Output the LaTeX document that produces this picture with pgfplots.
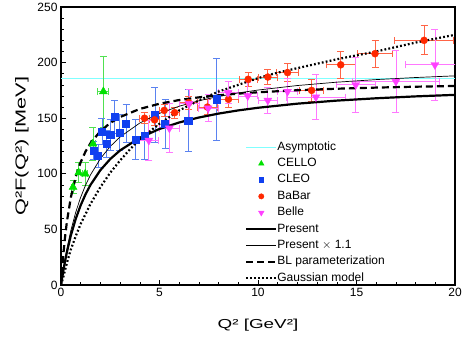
\documentclass[border=0pt]{standalone}
\usepackage{fontspec}
\setmainfont{Liberation Sans}
\usepackage{graphicx}
\usepackage{pgfplots}
\pgfplotsset{compat=1.18}

\definecolor{asym}{RGB}{128,255,255}
\definecolor{cellog}{RGB}{0,225,0}
\definecolor{cellol}{RGB}{80,225,80}
\definecolor{cleob}{RGB}{16,64,240}
\definecolor{cleol}{RGB}{90,130,240}
\definecolor{babarr}{RGB}{255,40,0}
\definecolor{babarl}{RGB}{255,100,70}
\definecolor{bellem}{RGB}{255,64,255}
\definecolor{bellel}{RGB}{255,120,255}

\begin{document}
\begin{tikzpicture}
\begin{axis}[
  scale only axis, width=394pt, height=278pt,
  xmin=0, xmax=20, ymin=0, ymax=250,
  xtick={0,5,10,15,20}, ytick={0,50,100,150,200,250},
  minor x tick num=4, minor y tick num=4,
  tick align=inside, tick pos=left,
  major tick length=5pt, minor tick length=3pt,
  axis line style={line width=1.2pt}, every tick/.style={black, line width=0.6pt},
  /pgf/number format/assume math mode=true,
  ticklabel style={font=\fontsize{12}{14}\selectfont},
  xlabel={\scalebox{1.45}[1]{Q² [GeV²]}}, ylabel={\scalebox{1.5}[1]{\fontsize{14.5}{16}\selectfont Q²F(Q²) [MeV]}},
  label style={font=\fontsize{13}{15}\selectfont},
  xlabel style={at={(axis description cs:0.5,-0.144)}, anchor=center},
  ylabel style={at={(axis description cs:-0.099,0.5)}, anchor=center},
  legend image code/.code={\draw[mark repeat=2,mark phase=2,#1] plot coordinates {(0pt,0pt)(15pt,0pt)(30pt,0pt)};},
  legend style={draw=none, fill=none, inner sep=0pt, at={(axis description cs:0.467,0.518)}, anchor=north west,
    font=\fontsize{12}{14}\selectfont, nodes={inner sep=0pt, text height=9pt, text depth=3pt},
    row sep=4.4pt, /tikz/every even column/.append style={column sep=7pt}},
  legend cell align=left,
]
\addplot[asym, line width=0.9pt] coordinates {(0,185.5) (20,185.5)};
\addlegendentry{Asymptotic}

\addplot[only marks, mark=triangle*, mark size=4.6pt, color=cellog,
  legend image post style={mark size=3.2pt},
  error bars/.cd, x dir=both, x explicit, y dir=both, y explicit,
  error bar style={cellol, line width=0.8pt},
  error mark options={rotate=90, mark size=3.5pt, cellol, line width=0.8pt}]
  coordinates {
  (0.61,88) +- (0.08,6)
  (0.90,101) +- (0.1,9)
  (1.23,100) +- (0.12,10)
  (1.62,127) +- (0.15,15)
  (2.15,174) +- (0.28,32)
};
\addlegendentry{CELLO}

\addplot[only marks, mark=square*, mark size=3.6pt, color=cleob,
  legend image post style={mark size=2.3pt},
  error bars/.cd, y dir=both, y explicit,
  error bar style={cleol, line width=0.8pt},
  error mark options={rotate=90, mark size=3.5pt, cleol, line width=0.8pt}]
  coordinates {
  (1.64,121) +- (0,8)
  (1.88,116) +- (0,10)
  (2.08,138) +- (0,12)
  (2.31,127) +- (0,12)
  (2.50,135) +- (0,14)
  (2.73,151) +- (0,15)
  (2.96,137) +- (0,16)
  (3.30,145) +- (0,17)
  (3.78,131) +- (0,18)
  (4.23,134) +- (0,21)
  (4.77,153) +- (0,25)
  (5.28,145) +- (0,22)
  (6.46,148) +- (0,28)
  (7.90,167) +- (0,37)
};
\addlegendentry{CLEO}

\addplot[only marks, mark=*, mark size=3.5pt, color=babarr,
  legend image post style={mark size=2.7pt},
  error bars/.cd, x dir=both, x explicit, y dir=both, y explicit,
  error bar style={babarl, line width=0.8pt},
  error mark options={rotate=90, mark size=3.5pt, babarl, line width=0.8pt}]
  coordinates {
  (4.24,150) +- (0.25,5)
  (4.75,148.5) +- (0.25,5)
  (5.24,157) +- (0.25,5)
  (5.77,155) +- (0.25,5)
  (6.48,164) +- (0.45,6)
  (7.43,160) +- (0.5,7)
  (8.50,167) +- (0.5,7)
  (9.50,185) +- (0.45,6)
  (10.50,187) +- (0.5,7)
  (11.50,191) +- (0.55,8)
  (12.72,175) +- (0.6,10)
  (14.20,198) +- (0.75,12)
  (15.94,208) +- (0.9,12)
  (18.43,220) +- (1.5,13)
};
\addlegendentry{BaBar}

\addplot[only marks, mark=triangle*, mark options={rotate=180}, mark size=4.6pt, color=bellem,
  legend image post style={mark size=3.2pt},
  error bars/.cd, x dir=both, x explicit, y dir=both, y explicit,
  error bar style={bellel, line width=0.8pt},
  error mark options={rotate=90, mark size=3.5pt, bellel, line width=0.8pt}]
  coordinates {
  (4.46,130) +- (0.5,18)
  (5.50,141) +- (0.5,22)
  (6.50,163) +- (0.5,13)
  (7.47,159) +- (0.5,12)
  (8.48,173) +- (0.5,10)
  (9.48,170) +- (0.5,12)
  (10.50,166) +- (0.5,12)
  (11.50,174) +- (0.5,12)
  (12.94,169) +- (1.5,20)
  (14.96,180) +- (1.0,25)
  (17.00,183) +- (2.2,28)
  (18.98,198) +- (1.5,32)
};
\addlegendentry{Belle}

\addplot[black, line width=2.2pt] coordinates {
  (0,0) (0.05,5.69) (0.1,11.04) (0.2,20.84) (0.3,29.58) (0.5,44.54) (0.75,59.61)
  (1,71.75) (1.25,81.74) (1.5,90.10) (2,103.31) (2.5,113.27) (3,121.05) (4,132.42)
  (5,140.33) (6,146.16) (7,150.62) (8,154.15) (9,157.01) (10,159.38) (12,163.07)
  (14,165.81) (16,167.92) (18,169.61) (20,170.98)};
\addlegendentry{Present}

\addplot[black, line width=0.7pt] coordinates {
  (0,0) (0.05,6.26) (0.1,12.14) (0.2,22.92) (0.3,32.54) (0.5,48.99) (0.75,65.57)
  (1,78.93) (1.25,89.91) (1.5,99.11) (2,113.64) (2.5,124.60) (3,133.16) (4,145.66)
  (5,154.36) (6,160.78) (7,165.68) (8,169.57) (9,172.71) (10,175.32) (12,179.38)
  (14,182.39) (16,184.71) (18,186.57) (20,188.08)};
\addlegendentry{Present $\times$ 1.1}

\addplot[black, line width=2.2pt, dash pattern=on 7pt off 4pt] coordinates {
  (0,0) (0.05,12.78) (0.1,23.90) (0.2,42.33) (0.3,56.98) (0.5,78.79) (0.75,97.44)
  (1,110.51) (1.25,120.19) (1.5,127.64) (2,138.37) (2.5,145.72) (3,151.06) (4,158.32)
  (5,163.02) (6,166.32) (7,168.75) (8,170.62) (9,172.11) (10,173.32) (12,175.16)
  (14,176.50) (16,177.52) (18,178.32) (20,178.97)};
\addlegendentry{BL parameterization}

\addplot[black, line width=2.2pt, dash pattern=on 1.8pt off 2.2pt] coordinates {
  (0,0) (0.1,6) (0.2,13) (0.35,23) (0.5,32) (0.75,44) (1,55) (1.5,73) (2,88)
  (2.5,101) (3,112) (3.5,122) (4,131) (5,145) (6,157) (7,166) (8,174) (9,180)
  (10,186) (11,191) (12,195) (14,203) (16,210) (18,218) (20,225)};
\addlegendentry{Gaussian model}
\end{axis}
\pgfresetboundingbox
\path (current axis.south west) ++(-61pt,-62pt) rectangle ++(463pt,347pt);
\end{tikzpicture}
\end{document}
